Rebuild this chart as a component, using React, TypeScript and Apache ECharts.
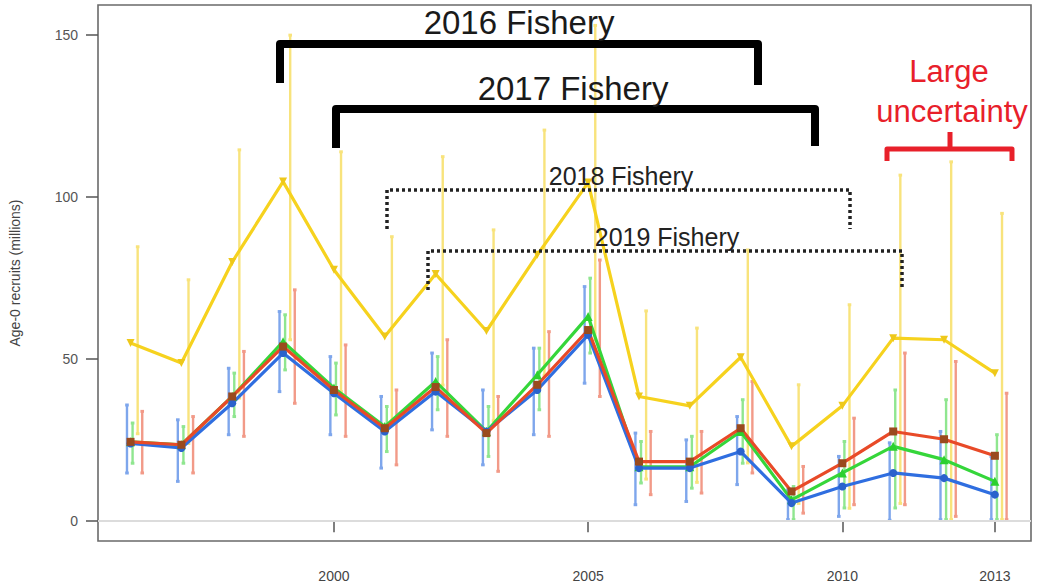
import React, { useEffect, useRef } from "react";
import * as echarts from "echarts";

const years = [1996, 1997, 1998, 1999, 2000, 2001, 2002, 2003, 2004, 2005, 2006, 2007, 2008, 2009, 2010, 2011, 2012, 2013];

const yellowMid = [55, 48.8, 80, 104.8, 77.6, 57, 76.3, 58.7, 82.2, 104.5, 38.5, 35.6, 50.6, 23.1, 35.6, 56.5, 56, 45.7];
const yellowLow = [27, 24, 38, 56, 40, 30, 42, 31, 45, 56, 13, 12, 18, 5.5, 4, 5.5, 0.5, 0.5];
const yellowHigh = [84.7, 74.5, 114.6, 150, 114, 87.8, 112.5, 89.9, 120.7, 153, 64.9, 59.6, 83.7, 42.1, 66.8, 106.8, 110.9, 95];

const redMid = [24.5, 23.6, 38.5, 53.9, 40.5, 28.7, 41.4, 27.2, 42.1, 59.0, 18.4, 18.4, 28.7, 9.2, 17.9, 27.7, 25.3, 20.2];
const redLow = [14.9, 14.9, 26.2, 36.4, 26.2, 17.4, 26.2, 15.4, 26.2, 38.5, 8.2, 8.7, 14.9, 2.5, 5.1, 5.1, 1.5, 0.5];
const redHigh = [33.9, 32.3, 52.4, 71.4, 54.4, 40.5, 56.0, 38.5, 58.5, 80.6, 27.7, 27.7, 43.1, 16.9, 31.8, 51.9, 49.3, 39.5];

const greenMid = [24.5, 23.6, 38.5, 55.4, 41.1, 29.2, 43.1, 27.7, 45.2, 63.2, 16.8, 16.8, 27.7, 6.6, 14.9, 23.1, 19.0, 12.3];
const greenLow = [17.9, 17.9, 32.3, 46.7, 32.8, 21.5, 34.4, 20.0, 34.4, 51.9, 11.8, 10.2, 17.9, 0.5, 4.1, 4.1, 0.5, 0.5];
const greenHigh = [30.3, 29.2, 45.7, 63.7, 48.8, 35.4, 50.8, 35.4, 53.4, 75.0, 24.6, 26.2, 37.5, 10.7, 24.6, 40.5, 37.5, 26.7];

const blueMid = [24, 22.6, 36.4, 51.9, 39.5, 27.7, 40.0, 27.7, 40.5, 57.5, 16.4, 16.4, 21.5, 5.6, 10.7, 14.9, 13.3, 8.2];
const blueLow = [14.9, 12.3, 26.7, 40.0, 26.7, 16.4, 28.2, 17.4, 26.7, 42.6, 5.1, 6.1, 11.3, 0.5, 1.5, 0.3, 0.5, 0.5];
const blueHigh = [35.9, 31.3, 47.2, 64.7, 50.8, 38.5, 51.9, 40.5, 53.4, 72.4, 27.2, 25.1, 32.3, 9.7, 20.0, 24.2, 27.7, 20.0];

const xTicks = [2000, 2005, 2010, 2013];
const yTicks = [0, 50, 100, 150];

const FONT = "'Liberation Sans', Arial, sans-serif";

function errSeries(name: string, color: string, offset: number, lo: number[], hi: number[]) {
  return {
    name,
    type: "custom",
    z: 1,
    data: years.map((y, i) => [y + offset, lo[i], hi[i]]),
    encode: { x: 0, y: [1, 2] },
    renderItem: (_p: any, api: any) => {
      const x = api.value(0);
      const a = api.coord([x, api.value(1)]);
      const b = api.coord([x, api.value(2)]);
      return {
        type: "group",
        children: [
          { type: "line", shape: { x1: a[0], y1: a[1], x2: b[0], y2: b[1] }, style: { stroke: color, lineWidth: 2.4 } },
          { type: "rect", shape: { x: a[0] - 1.8, y: a[1] - 1.5, width: 3.6, height: 3 }, style: { fill: color } },
          { type: "rect", shape: { x: b[0] - 1.8, y: b[1] - 1.5, width: 3.6, height: 3 }, style: { fill: color } },
        ],
      };
    },
  };
}

function lineSeries(name: string, color: string, markColor: string, symbol: string, vals: number[], rotate = 0, size = 8) {
  return {
    name,
    type: "line",
    z: 3,
    data: years.map((y, i) => [y, vals[i]]),
    symbol,
    symbolSize: size,
    symbolRotate: rotate,
    showSymbol: true,
    lineStyle: { color, width: 3.2 },
    itemStyle: { color: markColor, borderWidth: 0 },
  };
}

export default function App() {
  const ref = useRef<HTMLDivElement>(null);
  useEffect(() => {
    if (!ref.current) return;
    const chart = echarts.init(ref.current, undefined, { renderer: "svg" });
    const option: any = {
      animation: false,
      backgroundColor: "#ffffff",
      grid: { left: 98, right: 6, top: 5, bottom: 47, show: true, borderColor: "#6a6a6a", borderWidth: 1.6, backgroundColor: "transparent" },
      xAxis: {
        type: "value",
        min: 1995.36,
        max: 2013.71,
        axisLine: { show: false },
        splitLine: { show: false },
        axisTick: { show: true, length: 11, customValues: xTicks, lineStyle: { color: "#555", width: 1.5 } },
        axisLabel: { customValues: xTicks, formatter: (v: number) => String(v), color: "#444", fontSize: 14, fontFamily: FONT, margin: 28 },
      },
      yAxis: {
        type: "value",
        min: -6.1,
        max: 159.3,
        name: "Age-0 recruits (millions)",
        nameLocation: "middle",
        nameRotate: 90,
        nameGap: 76,
        nameTextStyle: { color: "#444", fontSize: 14, fontFamily: FONT },
        axisLine: { show: false },
        splitLine: { show: false },
        axisTick: { show: true, length: 12, customValues: yTicks, lineStyle: { color: "#555", width: 1.5 } },
        axisLabel: { customValues: yTicks, formatter: (v: number) => String(v), color: "#555", fontSize: 14, fontFamily: FONT, margin: 20 },
      },
      series: [
        {
          type: "line",
          data: [],
          z: 0,
          markLine: {
            silent: true,
            symbol: "none",
            label: { show: false },
            lineStyle: { color: "#dcdcdc", width: 2, type: "solid" },
            data: [{ yAxis: 0 }],
          },
        },
        errSeries("yellowErr", "#f8e37c", 0.14, yellowLow, yellowHigh),
        errSeries("blueErr", "#7ea6ec", -0.07, blueLow, blueHigh),
        errSeries("greenErr", "#8fe68f", 0.04, greenLow, greenHigh),
        errSeries("redErr", "#f29a88", 0.23, redLow, redHigh),
        lineSeries("yellow", "#f6d21e", "#eec81a", "triangle", yellowMid, 180, 8),
        lineSeries("green", "#35d63a", "#2bd02f", "triangle", greenMid, 0, 9),
        lineSeries("blue", "#2f6ee0", "#2a62cc", "circle", blueMid, 0, 8),
        lineSeries("red", "#e84a28", "#9a4a1e", "rect", redMid, 0, 8),
      ],
      graphic: [
        { type: "polyline", z: 10, shape: { points: [[280, 83], [280, 44], [758, 44], [758, 85]] }, style: { stroke: "#000", lineWidth: 8, lineJoin: "round", fill: null } },
        { type: "text", z: 10, x: 519, y: 22, style: { text: "2016 Fishery", fill: "#1a1a1a", font: `33px ${FONT}`, textAlign: "center", verticalAlign: "middle" } },
        { type: "polyline", z: 10, shape: { points: [[336, 148], [336, 109], [815, 109], [815, 146]] }, style: { stroke: "#000", lineWidth: 8, lineJoin: "round", fill: null } },
        { type: "text", z: 10, x: 573, y: 88, style: { text: "2017 Fishery", fill: "#1a1a1a", font: `33px ${FONT}`, textAlign: "center", verticalAlign: "middle" } },
        { type: "polyline", z: 10, shape: { points: [[387, 229], [387, 190], [850, 190], [850, 229]] }, style: { stroke: "#222", lineWidth: 3.5, lineDash: [3, 3], fill: null } },
        { type: "text", z: 10, x: 621, y: 176, style: { text: "2018 Fishery", fill: "#222", font: `25px ${FONT}`, textAlign: "center", verticalAlign: "middle" } },
        { type: "polyline", z: 10, shape: { points: [[428, 290], [428, 251], [902, 251], [902, 287]] }, style: { stroke: "#222", lineWidth: 3.5, lineDash: [3, 3], fill: null } },
        { type: "text", z: 10, x: 667, y: 237, style: { text: "2019 Fishery", fill: "#222", font: `25px ${FONT}`, textAlign: "center", verticalAlign: "middle" } },
        { type: "text", z: 10, x: 949, y: 71, style: { text: "Large", fill: "#e8202a", font: `31px ${FONT}`, textAlign: "center", verticalAlign: "middle" } },
        { type: "text", z: 10, x: 952, y: 111, style: { text: "uncertainty", fill: "#e8202a", font: `31px ${FONT}`, textAlign: "center", verticalAlign: "middle" } },
        { type: "polyline", z: 10, shape: { points: [[887, 161], [887, 149], [1012, 149], [1012, 161]] }, style: { stroke: "#e8202a", lineWidth: 5, lineJoin: "round", fill: null } },
        { type: "line", z: 10, shape: { x1: 950, y1: 149, x2: 950, y2: 132 }, style: { stroke: "#e8202a", lineWidth: 5 } },
      ],
    };
    chart.setOption(option);
    return () => chart.dispose();
  }, []);
  return <div ref={ref} style={{ position: "fixed", left: 0, top: 0, width: 1037, height: 588 }} />;
}
